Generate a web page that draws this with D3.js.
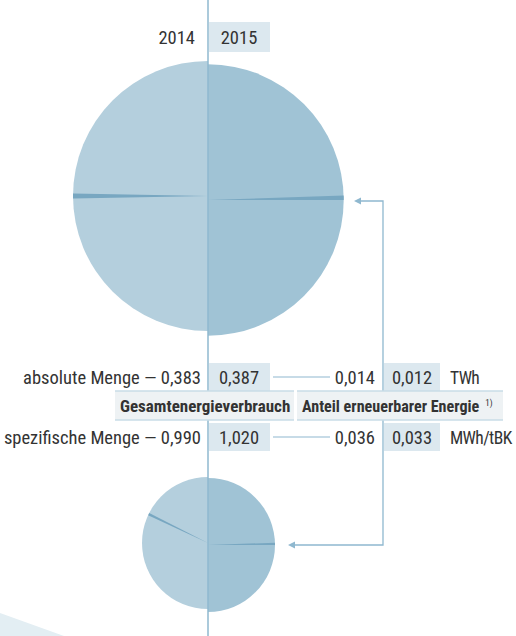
<!DOCTYPE html>
<html><head><meta charset="utf-8">
<script src="https://cdn.jsdelivr.net/npm/d3@7"></script>
<style>
html,body{margin:0;padding:0;background:#fff;}
svg{display:block;}
text{font-family:"Liberation Sans Narrow","Roboto Condensed","Liberation Sans",sans-serif;fill:#333;}
</style></head>
<body>
<script>
// ---- data ----
const years = ["2014", "2015"];
const totalAbs = [0.383, 0.387];      // TWh
const renewAbs = [0.014, 0.012];      // TWh
const totalSpec = [0.990, 1.020];     // MWh/tBK
const renewSpec = [0.036, 0.033];     // MWh/tBK
const rowLabels = ["absolute Menge", "spezifische Menge"];
const units = ["TWh", "MWh/tBK"];
const categoryLabels = ["Gesamtenergieverbrauch", "Anteil erneuerbarer Energie"];

// ---- setup ----
const W = 516, H = 636;
const svg = d3.select("body").append("svg").attr("width", W).attr("height", H);
const loc = d3.formatLocale({decimal: ",", thousands: ".", grouping: [3], currency: ["", "€"]});
const fmt = loc.format(".3f");

const cLeft = "#b4cfdd", cRight = "#a0c3d5", cWedge = "#78a7c1", cLine = "#8fb8cf", cBox = "#dce8ef", cLabelBox = "#eef2f4";
const axisX = 208;
const fs = 18.5;

// bottom-left decorative triangle
svg.append("path").attr("d", "M0,613 L64,636 L0,636 Z").attr("fill", "#e3eef3");

// pies
const pies = [
  {tot: totalAbs, ren: renewAbs, cy: [196, 200], rMax: 135, wedgeAt: [1.5 * Math.PI, 0.5 * Math.PI], wedgeMode: ["center", "below"]},
  {tot: totalSpec, ren: renewSpec, cy: [543, 545], rMax: 66, wedgeAt: [Math.PI * 2 * 0.822, 0.5 * Math.PI], wedgeMode: ["center", "below"]}
];
pies.forEach(p => {
  const rScale = d3.scaleSqrt().domain([0, p.tot[0]]).range([0, p.rMax]);
  const angleScale = d3.scaleLinear().domain([0, 1]).range([0, 1.05]); // share -> radians
  [0, 1].forEach(i => {
    const r = rScale(p.tot[i]);
    const g = svg.append("g").attr("transform", `translate(${axisX},${p.cy[i]})`);
    const half = i === 0 ? [Math.PI, 2 * Math.PI] : [0, Math.PI];
    g.append("path").attr("d", d3.arc()({innerRadius: 0, outerRadius: r, startAngle: half[0], endAngle: half[1]}))
      .attr("fill", i === 0 ? cLeft : cRight);
    const w = angleScale(p.ren[i] / p.tot[i]);
    const a = p.wedgeAt[i];
    const s = p.wedgeMode[i] === "center" ? a - w / 2 : a - w;
    g.append("path").attr("d", d3.arc()({innerRadius: 0, outerRadius: r, startAngle: s, endAngle: s + w}))
      .attr("fill", cWedge);
  });
});

// main vertical axis line
svg.append("line").attr("x1", axisX).attr("x2", axisX).attr("y1", 0).attr("y2", H)
  .attr("stroke", cLine).attr("stroke-width", 1.5);

// connector with arrows
const connX = 383;
svg.append("path").attr("d", `M359,201 H${connX} V545 H293`).attr("fill", "none").attr("stroke", cLine).attr("stroke-width", 1.3);
svg.append("path").attr("d", "M354,201 L361,197.5 L361,204.5 Z").attr("fill", cLine);
svg.append("path").attr("d", "M288,545 L295,541.5 L295,548.5 Z").attr("fill", cLine);

// header years
svg.append("rect").attr("x", axisX + 1).attr("y", 22).attr("width", 61).attr("height", 30).attr("fill", cBox);
svg.append("text").attr("x", 195).attr("y", 44).attr("text-anchor", "end").attr("font-size", fs).text(years[0]);
svg.append("text").attr("x", 239).attr("y", 44).attr("text-anchor", "middle").attr("font-size", fs).text(years[1]);

// table rows
const rows = [
  {label: rowLabels[0], tot: totalAbs, ren: renewAbs, unit: units[0], cy: 377},
  {label: rowLabels[1], tot: totalSpec, ren: renewSpec, unit: units[1], cy: 437}
];
rows.forEach(r => {
  svg.append("rect").attr("x", axisX + 1).attr("y", r.cy - 14).attr("width", 61).attr("height", 28).attr("fill", cBox);
  svg.append("rect").attr("x", connX + 1).attr("y", r.cy - 14).attr("width", 56).attr("height", 28).attr("fill", cBox);
  svg.append("line").attr("x1", 273).attr("x2", 330).attr("y1", r.cy).attr("y2", r.cy).attr("stroke", cLine).attr("stroke-width", 1.2);
  const by = r.cy + 6.5;
  svg.append("text").attr("x", 201).attr("y", by).attr("text-anchor", "end").attr("font-size", fs)
    .text(`${r.label} \u2014 ${fmt(r.tot[0])}`);
  svg.append("text").attr("x", 239).attr("y", by).attr("text-anchor", "middle").attr("font-size", fs).text(fmt(r.tot[1]));
  svg.append("text").attr("x", 375).attr("y", by).attr("text-anchor", "end").attr("font-size", fs).text(fmt(r.ren[0]));
  svg.append("text").attr("x", 412).attr("y", by).attr("text-anchor", "middle").attr("font-size", fs).text(fmt(r.ren[1]));
  svg.append("text").attr("x", 450).attr("y", by).attr("font-size", 17.5).attr("letter-spacing", -0.6).text(r.unit);
});

// category label boxes
const cats = [{x0: 115, x1: 294, t: categoryLabels[0], fz: 17}, {x0: 297, x1: 503, t: categoryLabels[1], fz: 16.1}];
cats.forEach((c, i) => {
  svg.append("rect").attr("x", c.x0).attr("y", 391).attr("width", c.x1 - c.x0).attr("height", 29).attr("fill", cLabelBox);
  svg.append("line").attr("x1", c.x0).attr("x2", c.x1).attr("y1", 391).attr("y2", 391).attr("stroke", "#c9dce7").attr("stroke-width", 1.5);
  svg.append("line").attr("x1", c.x0).attr("x2", c.x1).attr("y1", 420).attr("y2", 420).attr("stroke", "#c9dce7").attr("stroke-width", 1.5);
  const t = svg.append("text").attr("x", c.x0 + 5).attr("y", 411.5).attr("font-size", c.fz).attr("font-weight", "bold").text(c.t);
  if (i === 1) t.append("tspan").attr("dx", 6).attr("dy", -6).attr("font-size", 9).attr("font-weight", "normal").text("1)");
});
</script>
</body></html>
